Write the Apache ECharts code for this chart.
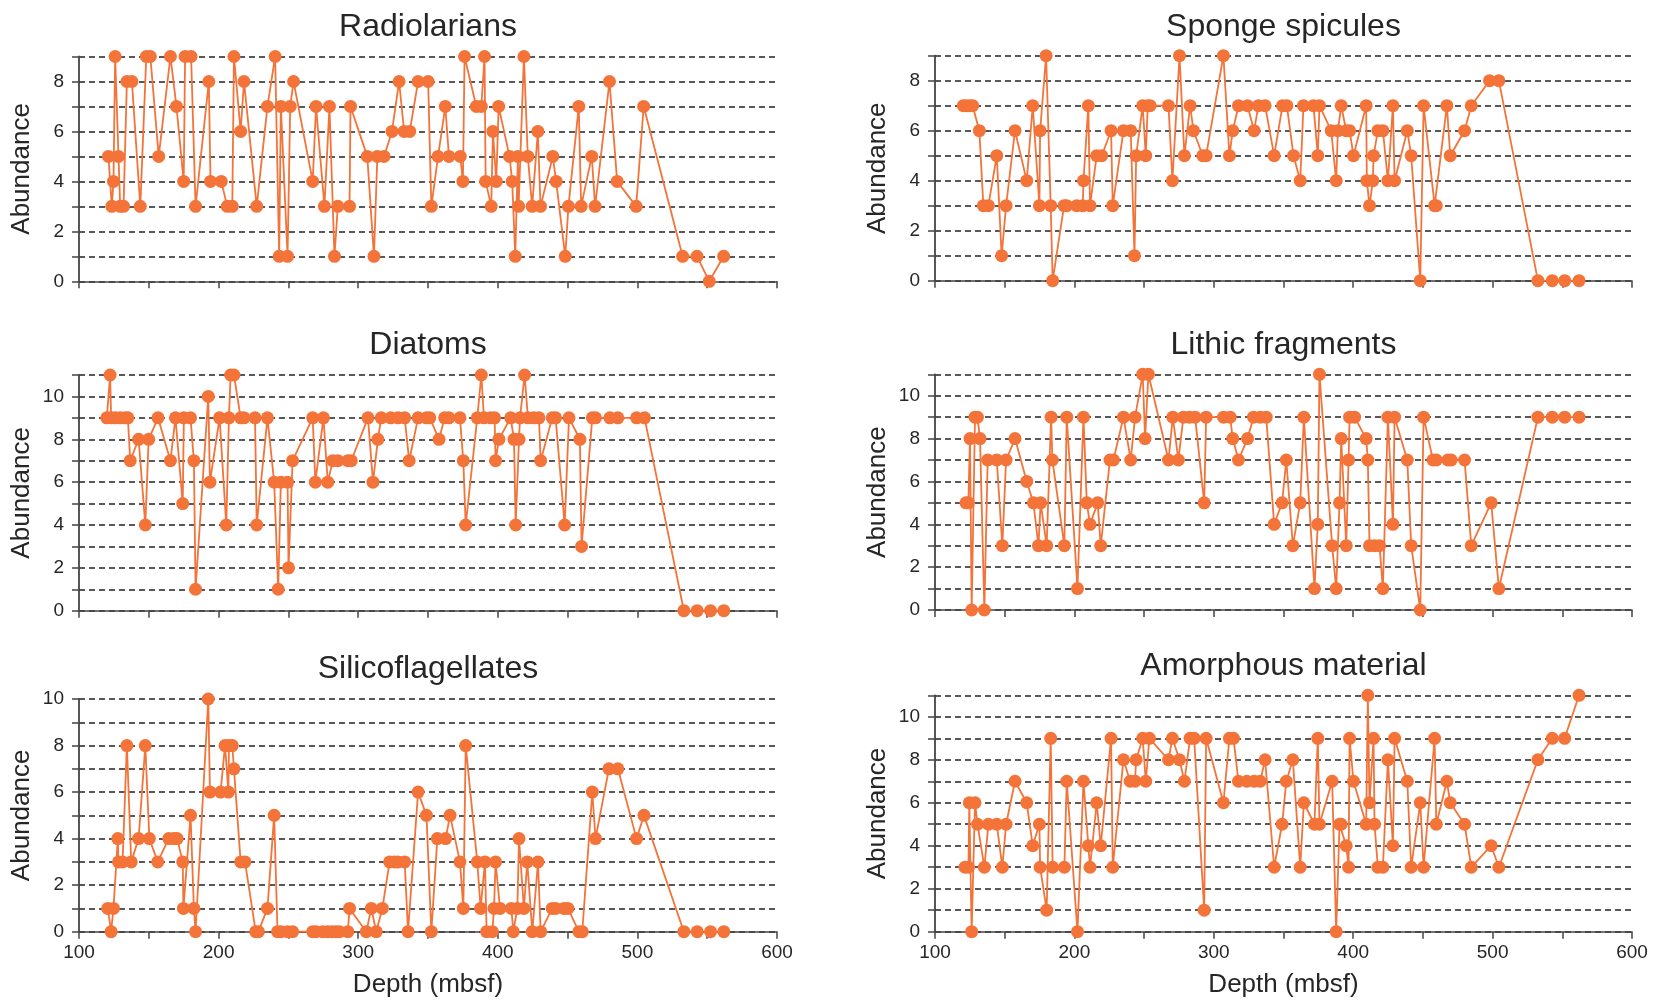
<!DOCTYPE html>
<html><head><meta charset="utf-8">
<script src="https://cdn.jsdelivr.net/npm/echarts@6/dist/echarts.min.js"></script>
<style>html,body{margin:0;padding:0;background:#fff}#c{width:1654px;height:1001px}</style>
</head><body><div id="c"></div><script>
// [depth (mbsf), abundance]
const radiolarians = [[121.1,5],[123.5,3],[124.7,4],[125.9,9],[128.3,5],[129.5,3],[131.9,3],[134.3,8],[137.9,8],[143.9,3],[148.2,9],[151.1,9],[157.1,5],[165.5,9],[169.8,7],[175,4],[176,9],[180.3,9],[183.5,3],[193,8],[194.2,4],[201.9,4],[206.2,3],[209.8,3],[211,9],[215.8,6],[218.2,8],[227.3,3],[235,7],[240.5,9],[243.4,1],[244.6,7],[249.4,1],[251.3,7],[253.7,8],[267.4,4],[269.8,7],[275.8,3],[279.4,7],[283,1],[285.4,3],[293.8,3],[294.5,7],[306.5,5],[311.3,1],[313.7,5],[318.5,5],[324.2,6],[329.3,8],[332.9,6],[336.9,6],[342.9,8],[350.1,8],[352.4,3],[357.2,5],[362.4,7],[365,5],[373.1,5],[375,4],[376.2,9],[384.6,7],[388.2,7],[390.5,9],[391.3,4],[395.3,3],[396.5,6],[398.9,4],[400.6,7],[408.4,5],[410.3,4],[412.5,1],[414.4,5],[414.9,3],[418.7,9],[421.5,5],[424.6,3],[428.7,6],[430.6,3],[439.4,5],[441.8,4],[448.3,1],[450.6,3],[458,7],[459.7,3],[467.3,5],[469.7,3],[480,8],[485.5,4],[499.1,3],[504.5,7],[532.4,1],[542.7,1],[551.5,0],[561.8,1]];
const spongeSpicules = [[120.3,7],[122.6,7],[125,7],[127,7],[131.8,6],[134.7,3],[138.3,3],[144.3,5],[147.8,1],[151,3],[157.4,6],[165.8,4],[170.1,7],[174.9,3],[175.4,6],[179.7,9],[183,3],[184.4,0],[192.6,3],[194.5,3],[201.7,3],[206,3],[206.5,4],[210,7],[211.2,3],[216,5],[219.6,5],[226.3,6],[227.5,3],[235.2,6],[240.4,6],[243.1,1],[244.3,5],[249,7],[251.2,5],[252.6,7],[254.3,7],[267.5,7],[270.3,4],[275.4,9],[278.9,5],[283,7],[285.4,6],[292.1,5],[294.5,5],[306.9,9],[311.2,5],[313.6,6],[317.7,7],[324.2,7],[328.9,6],[332,7],[336.8,7],[343.3,5],[349.3,7],[352.4,7],[357.2,5],[362,4],[364.3,7],[371.5,7],[374.6,5],[375.8,7],[384.2,6],[387.8,4],[389,6],[391.4,7],[395,6],[397.4,6],[400.2,5],[409.3,7],[409.8,4],[411.7,3],[414.1,4],[414.6,5],[417.7,6],[421.3,6],[424.9,4],[428.5,7],[429.7,4],[438.8,6],[441.6,5],[448.1,0],[450.5,7],[458.4,3],[459.6,3],[467.2,7],[469.6,5],[479.9,6],[484.7,7],[497.8,8],[504.5,8],[532.5,0],[542.8,0],[551.7,0],[562,0]];
const diatoms = [[119.9,9],[122.3,11],[123,9],[125.9,9],[129.5,9],[133.1,9],[135,9],[136.7,7],[142.7,8],[147.5,4],[149.9,8],[156.6,9],[165.5,7],[169.1,9],[174.3,5],[175.1,9],[179.9,9],[182.3,7],[183.5,1],[192.6,10],[193.8,6],[200.7,9],[205.5,4],[207.4,9],[208.6,11],[211,11],[215.8,9],[218.2,9],[226.1,9],[227.3,4],[235,9],[239.8,6],[242.7,1],[244.6,6],[249.4,6],[250.1,2],[253,7],[267.4,9],[269.3,6],[275.1,9],[278.2,6],[281.8,7],[285.4,7],[292.6,7],[295,7],[307,9],[310.6,6],[314.1,8],[316.5,9],[323.3,9],[328.5,9],[333.3,9],[336.5,7],[342.9,9],[348.9,9],[351.3,9],[357.9,8],[361.9,9],[365,9],[372.9,9],[375.3,7],[377,4],[385.3,9],[388.2,11],[390.1,9],[394.9,9],[397.7,9],[398.4,7],[400.8,8],[409.2,9],[411.6,8],[412.8,4],[415.2,8],[415.9,9],[419.2,11],[421.6,9],[425.9,9],[429.5,9],[430.7,7],[439,9],[441.4,9],[447.9,4],[451,9],[458.8,8],[460,3],[467.7,9],[470,9],[480.3,9],[486,9],[499.4,9],[505.1,9],[533.3,0],[542.8,0],[552.4,0],[561.9,0]];
const lithicFragments = [[122.2,5],[123.9,5],[125.1,8],[126.3,0],[128.7,9],[130.4,9],[132.3,8],[135.4,0],[137.8,7],[144.3,7],[148.3,3],[151,7],[157.4,8],[165.8,6],[170.6,5],[174.2,3],[175.8,5],[180.1,3],[183.3,9],[184.2,7],[192.8,3],[194.5,9],[202.2,1],[206.5,9],[208.9,5],[211.2,4],[216.7,5],[218.9,3],[225.5,7],[228,7],[235.2,9],[240.4,7],[243.5,9],[249,11],[250.7,8],[253.1,11],[267.5,7],[270.6,9],[274.6,7],[278.2,9],[282.5,9],[286.6,9],[293.1,5],[294.5,9],[307,9],[311.7,9],[313.6,8],[317.7,7],[324.2,8],[328.5,9],[333.3,9],[337.6,9],[343.3,4],[349,5],[352,7],[356.7,3],[362,5],[364.6,9],[372.2,1],[374.6,4],[375.8,11],[384.9,3],[387.8,1],[390.2,5],[391.4,8],[395,3],[396.7,7],[397.4,9],[401,9],[409.3,8],[410.5,7],[411.7,3],[415.3,3],[418.9,3],[421.3,1],[424.9,9],[428.5,4],[429.7,9],[438.8,7],[441.6,3],[448.1,0],[450.5,9],[457.2,7],[459.6,7],[467.9,7],[470.3,7],[479.9,7],[484.7,3],[499,5],[504.5,1],[532.5,9],[542.8,9],[551.7,9],[562,9]];
const silicoflagellates = [[120.6,1],[123,0],[124.7,1],[127.8,4],[128.3,3],[131.2,3],[134.3,8],[137.4,3],[142.7,4],[147.5,8],[150.4,4],[156.4,3],[164.3,4],[167.9,4],[170.3,4],[174.3,3],[174.8,1],[179.9,5],[182.3,1],[183.5,0],[192.6,10],[193.8,6],[201.4,6],[204.6,8],[207,6],[207.4,8],[209.8,8],[211,7],[215.8,3],[218.9,3],[226.6,0],[228.5,0],[235,1],[239.8,5],[242.2,0],[244.6,0],[249.4,0],[253,0],[267.4,0],[269.8,0],[274.6,0],[278.2,0],[281.3,0],[284.2,0],[286.6,0],[292.6,0],[293.8,1],[305.8,0],[309.4,1],[312.9,0],[317.3,1],[322.5,3],[326.1,3],[328.5,3],[333.3,3],[335.7,0],[342.9,6],[348.9,5],[352.4,0],[356.7,4],[362.6,4],[365.8,5],[372.9,3],[375.3,1],[377,8],[385.3,3],[387.7,1],[390.8,3],[392,0],[396.1,0],[397.3,1],[398.4,3],[401.6,1],[409.7,1],[411.1,0],[414,1],[415.2,4],[418.7,1],[421.1,3],[424.7,0],[428.8,3],[430.7,0],[439,1],[441.4,1],[447.4,1],[450.2,1],[458.1,0],[460.5,0],[467.7,6],[470,4],[479.6,7],[486,7],[499.4,4],[504.7,5],[533.3,0],[542.8,0],[552.4,0],[561.9,0]];
const amorphousMaterial = [[121.5,3],[124,3],[124.6,6],[126.3,0],[128.7,6],[130.5,5],[135.4,3],[138.3,5],[144.3,5],[148.3,3],[151,5],[157.4,7],[165.8,6],[170.1,4],[174.9,5],[175.4,3],[180.1,1],[183,9],[184.4,3],[192.8,3],[194.5,7],[202.2,0],[206.5,7],[210,4],[211.2,3],[216,6],[218.9,4],[226.3,9],[227.5,3],[235.2,8],[240,7],[243.5,7],[244.3,8],[249,9],[251.2,7],[253.8,9],[267.5,8],[270.3,9],[275.4,8],[278.9,7],[283,9],[285.9,9],[293.1,1],[294.5,9],[306.9,6],[311.2,9],[314.1,9],[317.7,7],[323.7,7],[328.9,7],[333.3,7],[336.8,8],[343.3,3],[349,5],[352,7],[356.7,8],[362,3],[364.6,6],[372.2,5],[374.6,9],[375.8,5],[384.9,7],[387.8,0],[390.2,5],[391.4,5],[395,4],[396.7,3],[397.4,9],[400.2,7],[409.3,5],[410.5,11],[411.7,6],[414.6,9],[415.3,5],[417.7,3],[421.3,3],[424.9,8],[428.5,4],[429.7,9],[438.8,7],[441.6,3],[448.1,6],[450.5,3],[458.4,9],[459.6,5],[467.2,7],[469.6,6],[479.9,5],[484.7,3],[499,4],[504.5,3],[532.5,8],[542.8,9],[551.7,9],[562,11]];

const panelTitles = ['Radiolarians','Sponge spicules','Diatoms','Lithic fragments','Silicoflagellates','Amorphous material'];
const panelData = [radiolarians, spongeSpicules, diatoms, lithicFragments, silicoflagellates, amorphousMaterial];
const yMax = [9, 9, 11, 11, 10, 11];
const xTicks = [100, 600, 50];
const yName = 'Abundance';
const xName = 'Depth (mbsf)';

const FONT = '"Liberation Sans", Arial, Helvetica, sans-serif';
const TXT = '#262626';
const AX = '#444';
const ORANGE = '#F47339';

const layouts = [
  {left:79, top:56.5, width:698, height:224.8, titleY:25.5},
  {left:935, top:55.7, width:697, height:225, titleY:25.5},
  {left:79, top:375, width:698, height:235.7, titleY:344},
  {left:935, top:374.3, width:697, height:235.7, titleY:344},
  {left:79, top:699, width:698, height:232.7, titleY:668},
  {left:935, top:695.3, width:697, height:236.4, titleY:665}
];
const TITLE_SIZE = 32;

const option = {
  animation: false,
  backgroundColor: '#fff',
  title: [], grid: [], xAxis: [], yAxis: [], series: []
};

layouts.forEach((L, i) => {
  const bottomRow = i >= 4;
  option.title.push({
    text: panelTitles[i], left: L.left + L.width / 2, top: L.titleY - TITLE_SIZE * 0.45,
    textAlign: 'center', padding: 0,
    textStyle: {fontFamily: FONT, fontSize: TITLE_SIZE, fontWeight: 'normal', color: TXT}
  });
  option.grid.push({left: L.left, top: L.top, width: L.width, height: L.height, containLabel: false});
  option.xAxis.push({
    type: 'value', gridIndex: i, min: xTicks[0], max: xTicks[1], interval: xTicks[2],
    name: bottomRow ? xName : '', nameLocation: 'middle', nameGap: 40,
    nameTextStyle: {fontFamily: FONT, fontSize: 26, color: TXT},
    axisLine: {show: true, onZero: false, lineStyle: {color: AX, width: 1.5}},
    axisTick: {show: true, length: 7, lineStyle: {color: AX, width: 1.5}},
    axisLabel: {show: bottomRow, margin: 12, fontFamily: FONT, fontSize: 19, color: TXT,
      formatter: v => (v % 100 === 0 ? String(v) : '')},
    splitLine: {show: false}
  });
  option.yAxis.push({
    type: 'value', gridIndex: i, min: 0, max: yMax[i], interval: 1,
    name: yName, nameLocation: 'middle', nameGap: 44,
    nameTextStyle: {fontFamily: FONT, fontSize: 26, color: TXT},
    axisLine: {show: true, lineStyle: {color: AX, width: 1.8}},
    axisTick: {show: true, length: 7, lineStyle: {color: AX, width: 1.5}},
    axisLabel: {margin: 15, fontFamily: FONT, fontSize: 19, color: TXT,
      formatter: v => (v % 2 === 0 ? String(v) : '')},
    splitLine: {show: true, lineStyle: {color: '#222', width: 1.5, type: [6, 4]}}
  });
  option.series.push({
    type: 'line', xAxisIndex: i, yAxisIndex: i, data: panelData[i],
    symbol: 'circle', symbolSize: 13, clip: false,
    lineStyle: {color: ORANGE, width: 1.8},
    itemStyle: {color: ORANGE}
  });
});

const chart = echarts.init(document.getElementById('c'), null, {renderer: 'canvas'});
chart.setOption(option);
</script></body></html>
